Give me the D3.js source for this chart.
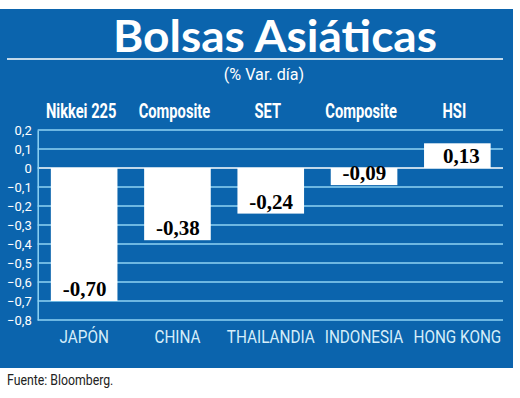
<!DOCTYPE html>
<html>
<head>
<meta charset="utf-8">
<script src="https://cdn.jsdelivr.net/npm/d3@7"></script>
<style>
  body { margin: 0; background: #fff; }
  svg { display: block; }
</style>
</head>
<body>
<svg id="chart"></svg>
<script>
const countries = ["JAPÓN", "CHINA", "THAILANDIA", "INDONESIA", "HONG KONG"];
const indices = ["Nikkei 225", "Composite", "SET", "Composite", "HSI"];
const values = [-0.70, -0.38, -0.24, -0.09, 0.13];
const yTicks = [0.2, 0.1, 0, -0.1, -0.2, -0.3, -0.4, -0.5, -0.6, -0.7, -0.8];

const w = 520;
const h = 398;
const blue = "#0b64ad";
const grid = "#8fd3f5";

const svg = d3.select("#chart").attr("width", w).attr("height", h);

// background panel
svg.append("rect")
  .attr("x", 0).attr("y", 9)
  .attr("width", 513).attr("height", 359)
  .attr("fill", blue);

// title
svg.append("text")
  .attr("x", 275).attr("y", 52)
  .attr("text-anchor", "middle")
  .attr("fill", "#fff")
  .attr("font-family", "Lato, sans-serif")
  .attr("font-weight", "bold")
  .attr("font-size", 44)
  .attr("textLength", 324)
  .attr("lengthAdjust", "spacingAndGlyphs")
  .text("Bolsas Asiáticas");

svg.append("line")
  .attr("x1", 7).attr("x2", 503)
  .attr("y1", 59).attr("y2", 59)
  .attr("stroke", "#fff").attr("stroke-width", 1.5);

svg.append("text")
  .attr("transform", "translate(264,80) scale(0.95,1)")
  .attr("text-anchor", "middle")
  .attr("fill", "#fff")
  .attr("font-family", "Roboto, sans-serif")
  .attr("font-size", 17)
  .text("(% Var. día)");

const x = d3.scaleBand()
  .domain(d3.range(countries.length))
  .range([37.5, 504])
  .paddingInner(0.286)
  .paddingOuter(0.143);

const y = d3.scaleLinear().domain([-0.8, 0.2]).range([320, 130]);

const fmt = (d) => (d === 0 ? "0" : d3.format(".1f")(d).replace(".", ","));

// gridlines
svg.append("g")
  .selectAll("line")
  .data(yTicks)
  .enter()
  .append("line")
  .attr("x1", 37.7).attr("x2", 503)
  .attr("y1", (d) => y(d)).attr("y2", (d) => y(d))
  .attr("stroke", (d) => (d === 0 ? "#fff" : grid))
  .attr("stroke-width", 1.5);

// y axis
const yAxis = d3.axisLeft(y).tickValues(yTicks).tickFormat(fmt).tickSize(0).tickPadding(6);
const ya = svg.append("g").attr("transform", "translate(37.7,0)").call(yAxis);
ya.select(".domain").attr("stroke", grid).attr("stroke-width", 1.5);
ya.selectAll("text")
  .attr("fill", "#fff")
  .attr("font-family", "Roboto, sans-serif")
  .attr("font-size", 13);

// bars
svg.append("g")
  .selectAll("rect")
  .data(values)
  .enter()
  .append("rect")
  .attr("x", (d, i) => x(i))
  .attr("width", x.bandwidth())
  .attr("y", (d) => y(Math.max(0, d)))
  .attr("height", (d) => Math.abs(y(d) - y(0)))
  .attr("fill", "#fff");

// value labels
svg.append("g")
  .selectAll("text")
  .data(values)
  .enter()
  .append("text")
  .attr("x", (d, i) => x(i) + x.bandwidth() - 11)
  .attr("y", (d) => Math.max(y(d), y(0)) - 5)
  .attr("text-anchor", "end")
  .attr("fill", "#000")
  .attr("font-family", "'Liberation Serif', serif")
  .attr("font-weight", "bold")
  .attr("font-size", 21)
  .text((d) => d.toFixed(2).replace(".", ","));

// index names on top
svg.append("g")
  .selectAll("text")
  .data(indices)
  .enter()
  .append("text")
  .attr("transform", (d, i) => `translate(${x(i) + x.bandwidth() / 2 - 3},118) scale(0.7,1)`)
  .attr("text-anchor", "middle")
  .attr("fill", "#fff")
  .attr("font-family", "Roboto, sans-serif")
  .attr("font-weight", "bold")
  .attr("font-size", 21)
  .text((d) => d);

// country names at bottom
svg.append("g")
  .selectAll("text")
  .data(countries)
  .enter()
  .append("text")
  .attr("transform", (d, i) => `translate(${x(i) + x.bandwidth() / 2},343) scale(0.85,1)`)
  .attr("text-anchor", "middle")
  .attr("fill", "#d6eefa")
  .attr("font-family", "Roboto, sans-serif")
  .attr("font-size", 18)
  .text((d) => d);

// source
svg.append("text")
  .attr("transform", "translate(7,385) scale(0.82,1)")
  .attr("fill", "#222")
  .attr("font-family", "Roboto, sans-serif")
  .attr("font-size", 15)
  .text("Fuente: Bloomberg.");
</script>
</body>
</html>
